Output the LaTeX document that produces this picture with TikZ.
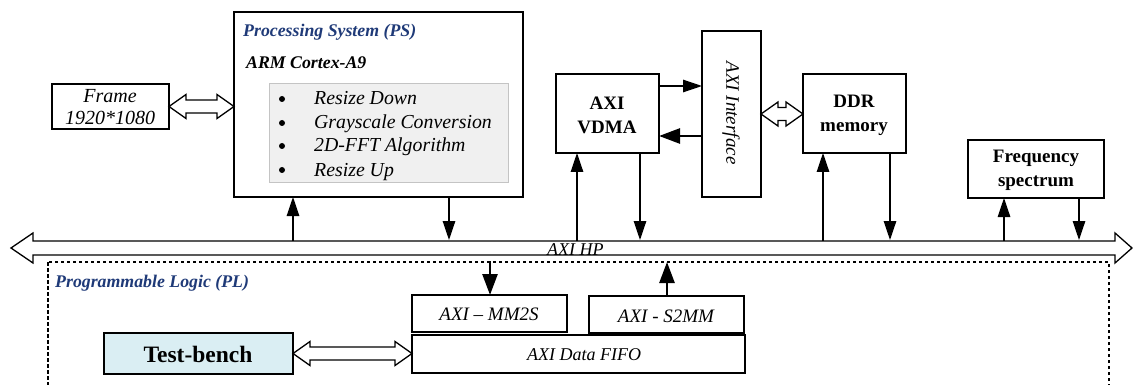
\documentclass[tikz,border=0pt]{standalone}
\usepackage{fontspec}
\setmainfont{Liberation Serif}
\usetikzlibrary{arrows.meta,calc}

\definecolor{titleblue}{HTML}{1F3A78}
\definecolor{listfill}{HTML}{F0F0F0}
\definecolor{listedge}{HTML}{C4C4C4}
\definecolor{tbfill}{HTML}{DAEEF3}

\newcommand{\sz}[2]{\fontsize{#1}{#2}\selectfont}

% hollow double-headed arrow between two anchors (horizontal)
\newcommand{\hollowlink}[2]{%
  \draw[hollow] let \p1=(#1), \p2=(#2) in
    (\x1,\y1) -- (\x1+17pt,\y1+12pt) -- (\x1+17pt,\y1+6.5pt)
    -- (\x2-17pt,\y1+6.5pt) -- (\x2-17pt,\y1+12pt) -- (\x2,\y1)
    -- (\x2-17pt,\y1-12pt) -- (\x2-17pt,\y1-6.5pt)
    -- (\x1+17pt,\y1-6.5pt) -- (\x1+17pt,\y1-12pt) -- cycle;}

\begin{document}
\begin{tikzpicture}[
  x=1pt, y=-1pt,
  box/.style={draw, line width=1.3pt, inner sep=0pt, outer sep=0pt, anchor=north west},
  hollow/.style={draw, line width=1.3pt, fill=white, line join=miter},
  arr/.style={line width=1.3pt, -{Triangle[length=19pt,width=12.5pt]}},
  thickarr/.style={line width=2.6pt, -{Triangle[length=21pt,width=15pt]}},
  itxt/.style={font=\sz{19}{24}\itshape},
  btxt/.style={font=\sz{19}{24}\bfseries, align=center},
  title/.style={font=\sz{17.8}{20}\bfseries\itshape, text=titleblue, anchor=base west, inner sep=0pt},
]
\path[use as bounding box] (0,0) rectangle (1133,385);
\clip (0,0) rectangle (1133,385);
\fill[white] (0,0) rectangle (1133,385);

% programmable logic region
\draw[line width=1.2pt, dash pattern=on 3.5pt off 2.5pt] (48,262) rectangle (1109,400);
\node[title] (pltitle) at (55,287) {Programmable Logic (PL)};

% AXI HP bus
\coordinate (busL) at (11,248);
\coordinate (busR) at (1132,248);
\draw[hollow] let \p1=(busL), \p2=(busR) in
  (\x1,\y1) -- (\x1+22pt,\y1+15pt) -- (\x1+22pt,\y1+7pt)
  -- (\x2-17pt,\y1+7pt) -- (\x2-17pt,\y1+15pt) -- (\x2,\y1)
  -- (\x2-17pt,\y1-15pt) -- (\x2-17pt,\y1-7pt)
  -- (\x1+22pt,\y1-7pt) -- (\x1+22pt,\y1-15pt) -- cycle;
\node[font=\sz{18}{20}\itshape, anchor=base west, inner sep=0pt] (hp) at (547,255) {AXI HP};

% processing system
\node[box, minimum width=289pt, minimum height=185pt] (ps) at (234,12) {};
\node[title] (pstitle) at (243,37) {Processing System (PS)};
\node[font=\sz{17.8}{20}\bfseries\itshape, anchor=base west, inner sep=0pt] (arm) at (246,69) {ARM Cortex-A9};
\node[box, draw=listedge, line width=1pt, fill=listfill, minimum width=239pt, minimum height=99pt] (list) at (269,84) {};
\foreach \i/\t/\yb in {1/Resize Down/105, 2/Grayscale Conversion/129, 3/2D-FFT Algorithm/152, 4/Resize Up/176}{
  \fill (282,\yb-6) circle (3pt);
  \node[font=\sz{19.8}{24}\itshape, anchor=base west, inner sep=0pt] (item\i) at (314,\yb) {\t};
}

% frame source
\node[box, minimum width=117pt, minimum height=45pt] (frame) at (52,84) {};
\node[font=\sz{20}{22}\itshape, align=center] (frametxt) at (110,107) {Frame\\1920*1080};

% VDMA, interface, DDR, spectrum
\node[box, minimum width=103pt, minimum height=79pt] (vdma) at (556,74) {};
\node[btxt] (vdmatxt) at (607,115) {AXI\\VDMA};
\node[box, minimum width=59pt, minimum height=166pt] (iface) at (702,31) {};
\node[font=\sz{19}{22}\itshape, rotate=-90] (ifacetxt) at (731,113) {AXI Interface};
\node[box, minimum width=103pt, minimum height=79pt] (ddr) at (803,74) {};
\node[btxt] (ddrtxt) at (854,115) {DDR\\memory};
\node[box, minimum width=136pt, minimum height=58pt] (freq) at (968,140) {};
\node[btxt] (freqtxt) at (1036,170) {Frequency\\spectrum};

% PL blocks
\node[box, minimum width=155pt, minimum height=37pt] (mm2s) at (412,295) {};
\node[itxt] (mm2stxt) at (489,314) {AXI -- MM2S};
\node[box, minimum width=155pt, minimum height=37pt] (s2mm) at (589,296) {};
\node[itxt] (s2mmtxt) at (666,316) {AXI - S2MM};
\node[box, minimum width=333pt, minimum height=38pt] (fifo) at (412,335) {};
\node[font=\sz{18}{24}\itshape] (fifotxt) at (584,355) {AXI Data FIFO};
\node[box, fill=tbfill, minimum width=189pt, minimum height=41pt] (tb) at (104,333) {};
\node[font=\sz{23.5}{26}\bfseries] (tbtxt) at (198,354) {Test-bench};

% hollow data links
\hollowlink{frame.east}{ps.west}
\hollowlink{iface.east}{ddr.west}
\hollowlink{tb.east}{fifo.west}

% connections to the bus
\coordinate (psup) at (293,241);
\coordinate (psdn) at (449,240);
\coordinate (vdup) at (577,241);
\coordinate (vddn) at (640,240);
\coordinate (ddup) at (823,241);
\coordinate (dddn) at (890,240);
\coordinate (frup) at (1004,241);
\coordinate (frdn) at (1079,240);
\draw[arr] (psup) -- (psup |- ps.south);
\draw[arr] (psdn |- ps.south) -- (psdn);
\draw[arr] (vdup) -- (vdup |- vdma.south);
\draw[arr] (vddn |- vdma.south) -- (vddn);
\draw[arr] (ddup) -- (ddup |- ddr.south);
\draw[arr] (dddn |- ddr.south) -- (dddn);
\draw[arr] (frup) -- (frup |- freq.south);
\draw[arr] (frdn |- freq.south) -- (frdn);

% VDMA <-> interface
\coordinate (vdout) at (659,86);
\coordinate (vdin) at (659,136);
\draw[arr] (vdout) -- (vdout -| iface.west);
\draw[thickarr] (vdin -| iface.west) -- (vdin);

% PL channels
\coordinate (mmtop) at (490,261);
\coordinate (s2top) at (667,262);
\draw[thickarr] (mmtop) -- (mmtop |- mm2s.north);
\draw[thickarr] (s2top |- s2mm.north) -- (s2top);
\end{tikzpicture}
\end{document}
